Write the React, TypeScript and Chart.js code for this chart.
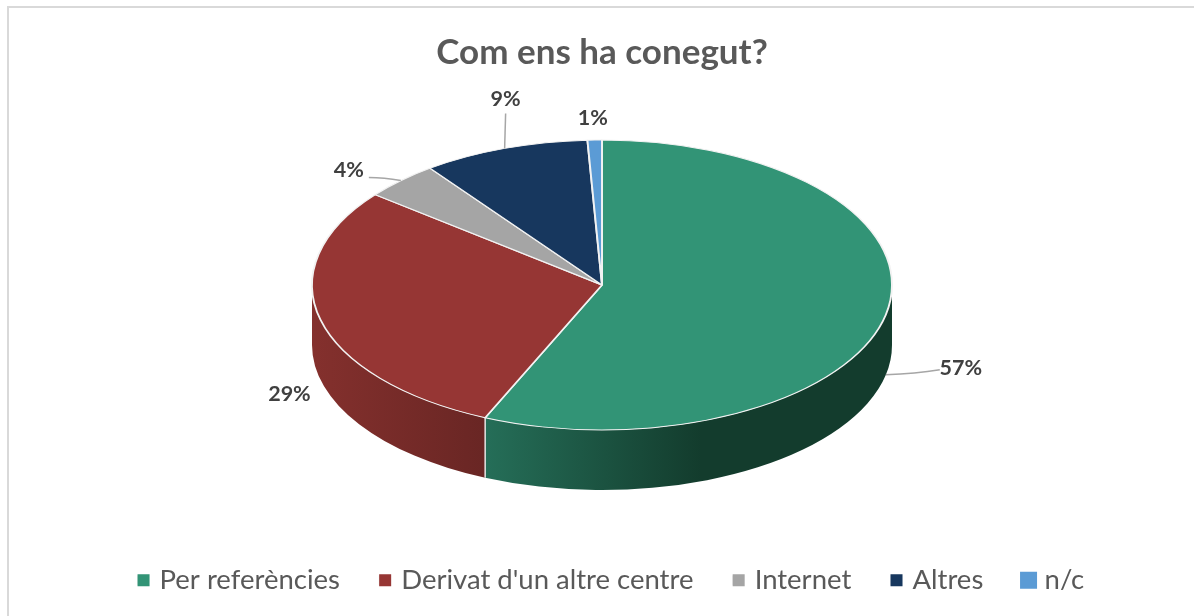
import React, { useEffect, useRef } from "react";
import { Chart, registerables } from "chart.js";

Chart.register(...registerables);

const titleText = "Com ens ha conegut?";
const categories = ["Per referències", "Derivat d'un altre centre", "Internet", "Altres", "n/c"];
const shares = [56.6, 29.1, 4.2, 9.3, 0.8];
const sliceColors = ["#329476", "#963634", "#a5a5a5", "#17375e", "#5b9bd5"];
const wallColorsFrom = ["#256e58", "#84302d", "#7c7c7c", "#112a47", "#4475a0"];
const wallColorsTo = ["#133c2d", "#692624", "#636363", "#0e2239", "#375e80"];
const wallGradientEnd = [0.53, 1, 1, 1, 1];
const legendBoxSizes = [12, 12, 12, 12, 17];

const labelPlacement = [
  { dx: 75, dy: 53, wall: true, leader: [[54, 55], [30, 59]] },
  { dx: -31, dy: 74, wall: false, leader: [] },
  { dx: -52, dy: -10, wall: false, leader: [[-17, -3], [-32, -3]] },
  { dx: 1, dy: -49, wall: false, leader: [[1, -35]] },
  { dx: -2, dy: -22, wall: false, leader: [] },
];

const threeD = {
  id: "threeD",
  beforeDatasetsDraw(chart: any, _args: any, opts: any) {
    const { ctx } = chart;
    const { cx, cy, rx, ry, depth } = opts;
    const arcs = chart.getDatasetMeta(0).data;
    arcs.forEach((arc: any, i: number) => {
      const a0 = Math.max(arc.startAngle, 0);
      const a1 = Math.min(arc.endAngle, Math.PI);
      if (a1 <= a0) return;
      const xa = cx + rx * Math.cos(a0);
      const xb = cx + rx * Math.cos(a1);
      const g = ctx.createLinearGradient(Math.min(xa, xb), 0, Math.max(xa, xb), 0);
      g.addColorStop(0, wallColorsFrom[i]);
      g.addColorStop(wallGradientEnd[i], wallColorsTo[i]);
      if (wallGradientEnd[i] < 1) g.addColorStop(1, wallColorsTo[i]);
      ctx.beginPath();
      ctx.ellipse(cx, cy, rx, ry, 0, a0, a1);
      ctx.ellipse(cx, cy + depth, rx, ry, 0, a1, a0, true);
      ctx.closePath();
      ctx.fillStyle = g;
      ctx.fill();
    });
    arcs.forEach((arc: any) => {
      const a = arc.endAngle;
      if (a > 0 && a < Math.PI) {
        const x = cx + rx * Math.cos(a);
        const y = cy + ry * Math.sin(a);
        ctx.beginPath();
        ctx.moveTo(x, y);
        ctx.lineTo(x, y + depth);
        ctx.strokeStyle = "#e4e4e4";
        ctx.lineWidth = 1.5;
        ctx.stroke();
      }
    });
    const first = arcs[0];
    const s = first.outerRadius;
    ctx.save();
    ctx.translate(cx, cy);
    ctx.scale(rx / s, ry / s);
    ctx.translate(-first.x, -first.y);
  },
  afterDatasetsDraw(chart: any, _args: any, opts: any) {
    const { ctx } = chart;
    ctx.restore();
    const { cx, cy, rx, ry, depth } = opts;
    const arcs = chart.getDatasetMeta(0).data;
    const total = shares.reduce((a, b) => a + b, 0);
    arcs.forEach((arc: any, i: number) => {
      const mid = (arc.startAngle + arc.endAngle) / 2;
      const ax = cx + rx * Math.cos(mid);
      const ay = cy + ry * Math.sin(mid);
      const p = labelPlacement[i];
      const startY = p.wall ? ay + depth : ay;
      if (p.leader.length) {
        ctx.beginPath();
        ctx.moveTo(ax, startY);
        if (p.leader.length === 2) {
          ctx.quadraticCurveTo(ax + p.leader[1][0], ay + p.leader[1][1], ax + p.leader[0][0], ay + p.leader[0][1]);
          if (i === 2) {
            ctx.beginPath();
            ctx.moveTo(ax, ay);
            ctx.quadraticCurveTo(ax + p.leader[0][0], ay + p.leader[0][1], ax + p.leader[1][0], ay + p.leader[1][1]);
          }
        } else {
          ctx.lineTo(ax + p.leader[0][0], ay + p.leader[0][1]);
        }
        ctx.strokeStyle = "#a6a6a6";
        ctx.lineWidth = 1.5;
        ctx.stroke();
      }
      ctx.font = "bold 21.5px Lato";
      ctx.fillStyle = "#404040";
      ctx.textAlign = "center";
      ctx.textBaseline = "middle";
      ctx.fillText(Math.round((shares[i] / total) * 100) + "%", ax + p.dx, ay + p.dy);
    });
  },
  afterLayout(chart: any, _args: any, opts: any) {
    const lg = chart.legend;
    lg.left += opts.legendShiftX;
    lg.right += opts.legendShiftX;
    lg.top += opts.legendShiftY;
    lg.bottom += opts.legendShiftY;
  },
  afterDraw(chart: any) {
    const lg = chart.legend;
    const { ctx } = chart;
    lg.legendHitBoxes.forEach((hit: any, i: number) => {
      const size = legendBoxSizes[i];
      const boxCx = hit.left + 5.75;
      const boxCy = hit.top + hit.height / 2;
      ctx.fillStyle = sliceColors[i];
      ctx.fillRect(boxCx - size / 2, boxCy - size / 2, size, size);
    });
  },
};

export default function App() {
  const ref = useRef<HTMLCanvasElement>(null);
  useEffect(() => {
    document.body.style.margin = "0";
    const chart = new Chart(ref.current as HTMLCanvasElement, {
      type: "pie",
      data: {
        labels: categories,
        datasets: [
          {
            data: shares,
            backgroundColor: sliceColors,
            borderColor: "#f2f2f2",
            borderWidth: 1.5,
          },
        ],
      },
      options: {
        animation: false,
        responsive: false,
        layout: { padding: { left: 10, top: 0, right: 0, bottom: 0 } },
        plugins: {
          title: {
            display: true,
            text: titleText,
            color: "#595959",
            font: { family: "Lato", size: 35, weight: "bold" },
            padding: { top: 32, bottom: 10 },
          },
          legend: {
            position: "bottom",
            labels: {
              color: "#595959",
              font: { family: "Lato", size: 27.5 },
              boxWidth: 8,
              boxHeight: 8,
              padding: 39.5,
            },
          },
          tooltip: { enabled: false },
          threeD: { cx: 602, cy: 285, rx: 290, ry: 145, depth: 60, legendShiftX: 9, legendShiftY: -12 },
        } as any,
      },
      plugins: [threeD],
    });
    return () => chart.destroy();
  }, []);
  return (
    <div style={{ position: "absolute", left: 0, top: 0, width: 1194, height: 616, overflow: "hidden", background: "#fff" }}>
      <div
        style={{
          position: "absolute",
          left: 7,
          top: 6,
          width: 1187,
          height: 610,
          boxSizing: "border-box",
          borderLeft: "2px solid #d9d9d9",
          borderTop: "2px solid #d9d9d9",
        }}
      />
      <canvas ref={ref} width={1194} height={616} style={{ position: "absolute", left: 0, top: 0 }} />
    </div>
  );
}
